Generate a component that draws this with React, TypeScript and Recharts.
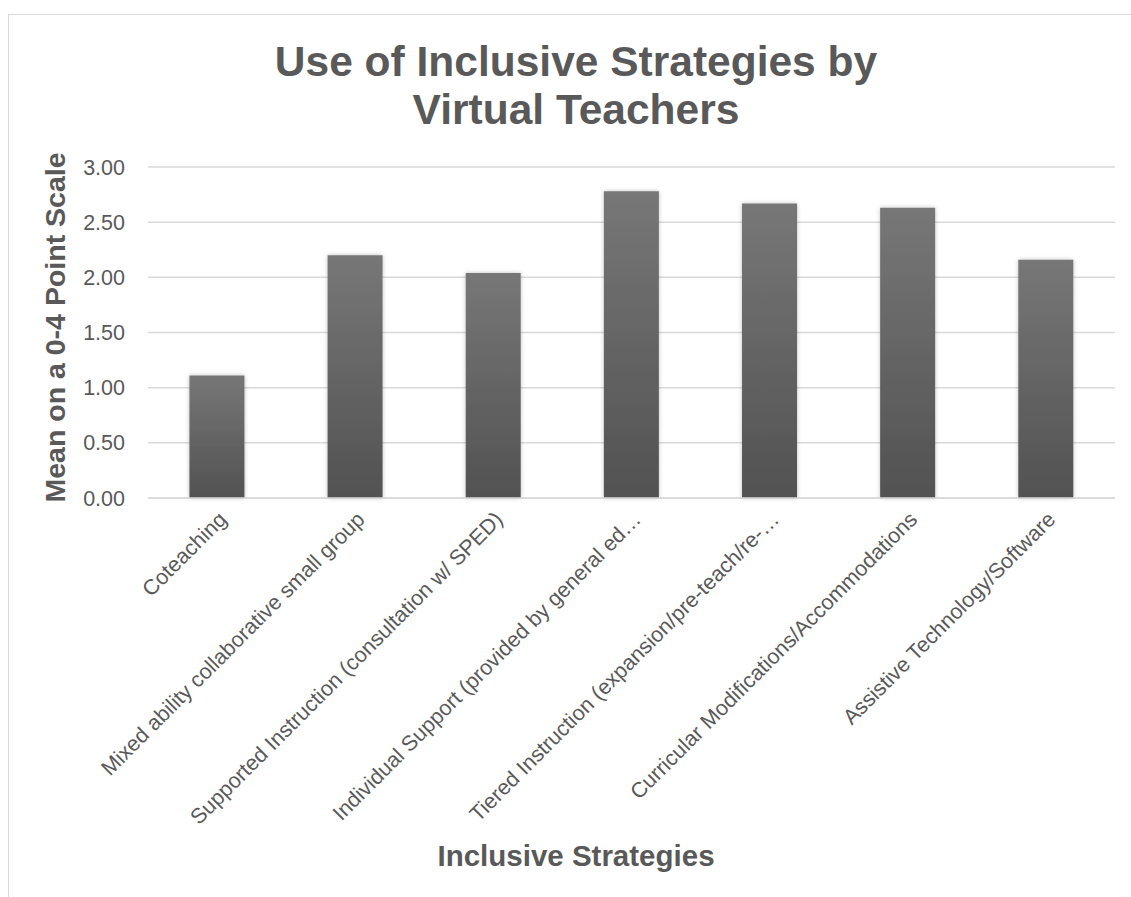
import React from "react";
import { BarChart, Bar, XAxis, YAxis, CartesianGrid } from "recharts";

// Data
const categories = [
    "Coteaching",
    "Mixed ability collaborative small group",
    "Supported Instruction (consultation w/ SPED)",
    "Individual Support (provided by general ed…",
    "Tiered Instruction (expansion/pre-teach/re-…",
    "Curricular Modifications/Accommodations",
    "Assistive Technology/Software",
];
const meanScores = [1.11, 2.2, 2.04, 2.78, 2.67, 2.63, 2.16];
const yTicks = [0, 0.5, 1, 1.5, 2, 2.5, 3];

const titleLines = ["Use of Inclusive Strategies by", "Virtual Teachers"];
const yTitle = "Mean on a 0-4 Point Scale";
const xTitle = "Inclusive Strategies";

const FONT = '"Liberation Sans", Arial, sans-serif';
const TEXT = "#595959";
const GRID = "#d9d9d9";
const FRAME_CENTER = 576;

const data = categories.map((name, i) => ({ name, value: meanScores[i] }));

export default function App() {
    return (
        <div
            style={{
                position: "absolute",
                left: 0,
                top: 0,
                width: 1131,
                height: 897,
                overflow: "hidden",
                background: "#fff",
                fontFamily: FONT,
            }}
        >
            {/* chart frame, runs off the right and bottom edge */}
            <div
                style={{
                    position: "absolute",
                    left: 8,
                    top: 14,
                    width: 1200,
                    height: 1000,
                    border: `1px solid ${GRID}`,
                }}
            />

            {/* Title */}
            <div
                style={{
                    position: "absolute",
                    left: FRAME_CENTER - 500,
                    top: 38,
                    width: 1000,
                    textAlign: "center",
                    fontSize: 42.5,
                    lineHeight: "48px",
                    fontWeight: "bold",
                    color: TEXT,
                }}
            >
                {titleLines.map((t) => (
                    <div key={t}>{t}</div>
                ))}
            </div>

            <div style={{ position: "absolute", left: 0, top: 0 }}>
                <BarChart
                    width={1131}
                    height={897}
                    data={data}
                    margin={{ top: 167, right: 16, bottom: 0, left: 8 }}
                    barCategoryGap="30%"
                    style={{ fontFamily: FONT }}
                >
                    <defs>
                        <linearGradient id="barGrad" x1="0" y1="0" x2="0" y2="1">
                            <stop offset="0%" stopColor="#777777" />
                            <stop offset="100%" stopColor="#525252" />
                        </linearGradient>
                        <filter id="barShadow" x="-20%" y="-5%" width="140%" height="110%">
                            <feDropShadow dx="0" dy="0" stdDeviation="2" floodColor="#000" floodOpacity="0.25" />
                        </filter>
                    </defs>
                    <CartesianGrid vertical={false} stroke={GRID} strokeWidth={1.5} />
                    <XAxis
                        dataKey="name"
                        interval={0}
                        height={399}
                        axisLine={{ stroke: GRID, strokeWidth: 1.5 }}
                        tickLine={false}
                        tickSize={0}
                        tickMargin={12}
                        tick={{
                            angle: -45,
                            textAnchor: "end",
                            verticalAnchor: "middle",
                            fontSize: 21.5,
                            fill: TEXT,
                        }}
                        label={{
                            content: ({ viewBox }: any) => (
                                <text
                                    x={FRAME_CENTER}
                                    y={viewBox.y + viewBox.height - 31}
                                    textAnchor="middle"
                                    fontSize={29.5}
                                    fontWeight="bold"
                                    fill={TEXT}
                                >
                                    {xTitle}
                                </text>
                            ),
                        }}
                    />
                    <YAxis
                        domain={[0, 3]}
                        ticks={yTicks}
                        width={140}
                        axisLine={false}
                        tickLine={false}
                        tickSize={0}
                        tickMargin={23}
                        tickFormatter={(v: number) => v.toFixed(2)}
                        tick={{ fontSize: 21.5, fill: TEXT }}
                        label={{
                            content: ({ viewBox }: any) => {
                                const cx = viewBox.x + 47;
                                const cy = viewBox.y + viewBox.height / 2 - 5;
                                return (
                                    <text
                                        x={cx}
                                        y={cy}
                                        transform={`rotate(-90, ${cx}, ${cy})`}
                                        textAnchor="middle"
                                        dominantBaseline="central"
                                        fontSize={28.5}
                                        fontWeight="bold"
                                        fill={TEXT}
                                    >
                                        {yTitle}
                                    </text>
                                );
                            },
                        }}
                    />
                    <Bar
                        dataKey="value"
                        fill="url(#barGrad)"
                        filter="url(#barShadow)"
                        isAnimationActive={false}
                    />
                </BarChart>
            </div>
        </div>
    );
}
